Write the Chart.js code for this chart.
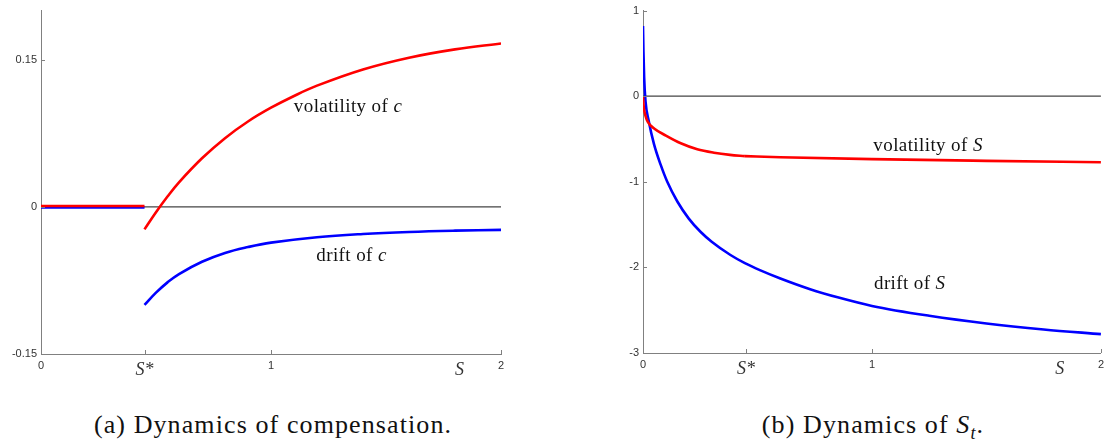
<!DOCTYPE html>
<html>
<head>
<meta charset="utf-8">
<script src="https://cdn.jsdelivr.net/npm/chart.js@4.4.1/dist/chart.umd.min.js"></script>
<style>
  body { margin: 0; background: #fff; width: 1109px; height: 445px; position: relative; overflow: hidden; }
  .panel { position: absolute; top: 0; height: 385px; }
  #panelA { left: 0; width: 555px; }
  #panelB { left: 555px; width: 554px; }
  .cap { position: absolute; top: 410px; font-family: "Liberation Serif", serif; font-size: 26px; color: #111; white-space: nowrap; transform: translateX(-50%); letter-spacing: 1.1px; }
  #capA { left: 273px; }
  #capB { left: 873px; }
</style>
</head>
<body>
<div class="panel" id="panelA"><canvas id="Compensation" width="555" height="385"></canvas></div>
<div class="panel" id="panelB"><canvas id="Dynamics_S" width="554" height="385"></canvas></div>
<div class="cap" id="capA">(a) Dynamics of compensation.</div>
<div class="cap" id="capB">(b) Dynamics of <i>S</i><sub style="font-size:18px"><i>t</i></sub>.</div>
<script>
// ---- data: panel (a), compensation ----
const compFlatX = [0, 0.45];
const volCFlat = [0.0008, 0.0008];
const driftCFlat = [-0.0006, -0.0006];
const volCX = [0.45, 0.5, 0.55, 0.6, 0.7, 0.8, 0.9, 1.0, 1.1, 1.2, 1.4, 1.6, 1.8, 2.0];
const volC = [-0.023, -0.0055, 0.0105, 0.025, 0.0495, 0.070, 0.087, 0.101, 0.113, 0.1235, 0.140, 0.152, 0.1605, 0.1665];
const driftCX = [0.45, 0.5, 0.55, 0.6, 0.7, 0.8, 0.9, 1.0, 1.2, 1.4, 1.6, 1.8, 2.0];
const driftC = [-0.100, -0.0875, -0.077, -0.0685, -0.056, -0.047, -0.041, -0.0365, -0.031, -0.0277, -0.0256, -0.0243, -0.0235];
const compYTicks = [-0.15, 0, 0.15];
const compYLabels = ['-0.15', '0', '0.15'];

// ---- data: panel (b), S_t ----
const driftSX = [0, 0.002, 0.005, 0.011, 0.025, 0.048, 0.077, 0.106, 0.15, 0.2, 0.251, 0.3, 0.382, 0.445, 0.513, 0.6, 0.73, 0.85, 1.0, 1.25, 1.5, 1.75, 2.0];
const driftS = [0.82, 0.52, 0.22, -0.06, -0.29, -0.56, -0.80, -1.0, -1.23, -1.43, -1.584, -1.70, -1.855, -1.95, -2.035, -2.13, -2.255, -2.35, -2.45, -2.565, -2.655, -2.725, -2.78];
const volSInnerX = [0, 0.002, 0.005, 0.01, 0.021, 0.05, 0.1, 0.165, 0.237, 0.31, 0.38, 0.445];
const volSInner = [0, -0.09, -0.16, -0.22, -0.30, -0.38, -0.46, -0.55, -0.62, -0.66, -0.685, -0.70];
const volSOuterX = [0.445, 0.6, 1.0, 1.5, 2.0];
const volSOuter = [-0.70, -0.713, -0.735, -0.755, -0.772];
const sYTicks = [-3, -2, -1, 0, 1];
const sYLabels = ['-3', '-2', '-1', '0', '1'];

// x axis ticks shared by both panels ('S' is the axis name, no tick mark)
const xTicks = [0, 0.45, 1, 1.82, 2];
const xLabels = ['0', 'S*', '1', 'S', '2'];
const xTickMarks = [0, 0.45, 1, 2];

const pts = (xs, ys) => xs.map((x, i) => ({ x: x, y: ys[i] }));

const serif = '"Liberation Serif", serif';

// inward tick marks + text labels on the curves
const decor = {
  id: 'decor',
  afterDatasetsDraw(chart, args, opts) {
    const ctx = chart.ctx;
    const xs = chart.scales.x, ys = chart.scales.y;
    ctx.save();
    ctx.strokeStyle = '#808080';
    ctx.lineWidth = 1;
    xTickMarks.forEach(v => {
      const px = Math.round(xs.getPixelForValue(v)) + 0.5;
      ctx.beginPath();
      ctx.moveTo(px, ys.bottom);
      ctx.lineTo(px, ys.bottom - 4);
      ctx.stroke();
    });
    opts.yTicks.forEach(v => {
      const py = Math.round(ys.getPixelForValue(v)) + 0.5;
      ctx.beginPath();
      ctx.moveTo(xs.left, py);
      ctx.lineTo(xs.left + 4, py);
      ctx.stroke();
    });
    ctx.fillStyle = '#111';
    ctx.textBaseline = 'middle';
    ctx.letterSpacing = '0.4px';
    opts.notes.forEach(n => {
      const plain = '19px ' + serif, ital = 'italic 19px ' + serif;
      ctx.font = plain;
      const w1 = ctx.measureText(n.text).width;
      ctx.font = ital;
      const w2 = ctx.measureText(n.sym).width;
      let x = xs.getPixelForValue(n.x) - (w1 + w2) / 2;
      const y = ys.getPixelForValue(n.y);
      ctx.font = plain;
      ctx.fillText(n.text, x, y);
      ctx.font = ital;
      ctx.fillText(n.sym, x + w1, y);
    });
    ctx.restore();
  }
};

function makeChart(id, datasets, yMin, yMax, yTicks, yLabels, yWidth, pad, notes) {
  return new Chart(document.getElementById(id), {
    type: 'line',
    data: { datasets: datasets },
    options: {
      responsive: false,
      animation: false,
      layout: { padding: pad },
      elements: { point: { radius: 0 }, line: { borderWidth: 2.6, tension: 0.4 } },
      plugins: { legend: { display: false }, tooltip: { enabled: false }, decor: { yTicks: yTicks, notes: notes } },
      scales: {
        x: {
          type: 'linear', min: 0, max: 2,
          afterBuildTicks: s => { s.ticks = xTicks.map(v => ({ value: v })); },
          afterFit: s => { s.height = 385 - pad.bottomEdge; },
          grid: { display: false, drawTicks: false },
          border: { display: true, color: '#808080', width: 1 },
          ticks: {
            autoSkip: false, maxRotation: 0, padding: 5, color: '#333',
            callback: (v, i) => xLabels[i],
            font: c => (xLabels[c.index] && xLabels[c.index].startsWith('S'))
              ? { family: serif, size: 18, style: 'italic' }
              : { family: '"Liberation Sans", Arial, sans-serif', size: 11 }
          }
        },
        y: {
          min: yMin, max: yMax,
          afterBuildTicks: s => { s.ticks = yTicks.map(v => ({ value: v })); },
          afterFit: s => { s.width = yWidth; },
          grid: { display: false, drawTicks: false },
          border: { display: true, color: '#808080', width: 1 },
          ticks: {
            padding: 4, color: '#333',
            callback: (v, i) => yLabels[i],
            font: { family: '"Liberation Sans", Arial, sans-serif', size: 11 }
          }
        }
      }
    },
    plugins: [decor]
  });
}

// Panel (a)
makeChart('Compensation', [
  { data: pts(compFlatX, volCFlat), borderColor: '#ff0000' },
  { data: pts(volCX, volC), borderColor: '#ff0000' },
  { data: pts(compFlatX, driftCFlat), borderColor: '#0000ff' },
  { data: pts(driftCX, driftC), borderColor: '#0000ff' },
  { data: pts([0, 2], [0, 0]), borderColor: '#444444', borderWidth: 1.2 }
], -0.15, 0.2, compYTicks, compYLabels, 41,
  { top: 8, right: 54, left: 0, bottom: 0, bottomEdge: 354 },
  [{ text: 'volatility of ', sym: 'c', x: 1.335, y: 0.102 },
   { text: 'drift of ', sym: 'c', x: 1.35, y: -0.050 }]);

// Panel (b)
makeChart('Dynamics_S', [
  { data: pts(volSInnerX, volSInner), borderColor: '#ff0000', cubicInterpolationMode: 'monotone' },
  { data: pts(volSOuterX, volSOuter), borderColor: '#ff0000', cubicInterpolationMode: 'monotone' },
  { data: pts(driftSX, driftS), borderColor: '#0000ff', cubicInterpolationMode: 'monotone' },
  { data: pts([0, 2], [0, 0]), borderColor: '#444444', borderWidth: 1.2 }
], -3, 1, sYTicks, sYLabels, 88,
  { top: 9, right: 8, left: 0, bottom: 0, bottomEdge: 353 },
  [{ text: 'volatility of ', sym: 'S', x: 1.245, y: -0.58 },
   { text: 'drift of ', sym: 'S', x: 1.165, y: -2.19 }]);
</script>
</body>
</html>
